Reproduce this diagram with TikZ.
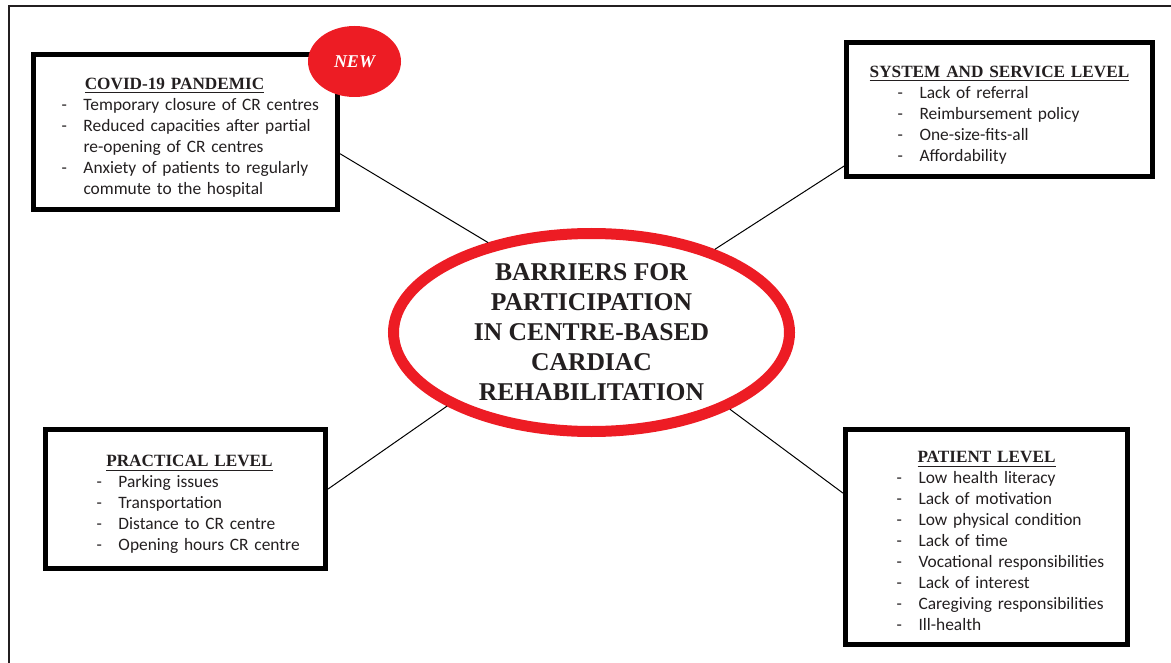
\documentclass[tikz,border=0pt]{standalone}
\usepackage{fontspec}
\setmainfont{Liberation Serif}
\newfontfamily\calibri{Carlito}
\definecolor{crred}{HTML}{ED1C24}
\definecolor{ink}{HTML}{231F20}
\newcommand{\lvhead}[1]{{\rule{0pt}{13pt}\rmfamily\bfseries\fontsize{8.6}{10.5}\selectfont\underline{#1}}}
\tikzset{
  levelbox/.style={draw=black, line width=2.5pt, inner sep=0pt, align=left,
    text=ink, font=\calibri\fontsize{8.7}{10.5}\selectfont},
  centre/.style={ellipse, draw=crred, line width=5.5pt, fill=white, inner sep=0pt,
    minimum width=198pt, minimum height=99pt, align=center, text=ink,
    font=\bfseries\fontsize{12.8}{15}\selectfont},
  newbadge/.style={ellipse, fill=crred, inner sep=0pt, minimum width=46.5pt,
    minimum height=35.5pt, text=white, font=\bfseries\itshape\fontsize{9}{10}\selectfont},
  link/.style={draw=black, line width=0.5pt}
}
\usetikzlibrary{shapes.geometric}
\begin{document}
\begin{tikzpicture}[x=0.5pt,y=-0.5pt]
  \useasboundingbox (0,0) rectangle (1171,663);
  \draw[ink, line width=1pt] (8.5,663) -- (8.5,6) -- (1171,6);

  \node[levelbox, minimum width=152pt, minimum height=77.5pt, text width=152pt] (covid) at (185.5,132)
    {\makebox[\linewidth]{\lvhead{COVID-19 PANDEMIC}\hspace*{11pt}}\\
     \begin{tabular}[t]{@{\hspace{14pt}}p{11pt}@{}l@{}}
       - & Temporary closure of CR centres\\
       - & Reduced capacities after partial\\
         & re-opening of CR centres\\
       - & Anxiety of patients to regularly\\
         & commute to the hospital
     \end{tabular}};
  \node[newbadge] (new) at (354.5,61.5) {NEW};

  \node[levelbox, minimum width=153pt, minimum height=67pt, text width=153pt] (system) at (999.5,109.5)
    {\makebox[\linewidth]{\lvhead{SYSTEM AND SERVICE LEVEL}}\\
     \begin{tabular}[t]{@{\hspace{25.5pt}}p{11pt}@{}l@{}}
       - & Lack of referral\\
       - & Reimbursement policy\\
       - & One-size-fits-all\\
       - & Affordability
     \end{tabular}};

  \node[levelbox, minimum width=140pt, minimum height=69.5pt, text width=140pt] (practical) at (185.5,499)
    {\makebox[\linewidth]{\hspace*{4pt}\lvhead{PRACTICAL LEVEL}}\\
     \begin{tabular}[t]{@{\hspace{25.5pt}}p{11pt}@{}l@{}}
       - & Parking issues\\
       - & Transportation\\
       - & Distance to CR centre\\
       - & Opening hours CR centre
     \end{tabular}};

  \node[levelbox, minimum width=141pt, minimum height=107.5pt, text width=141pt] (patient) at (986.5,537)
    {\makebox[\linewidth]{\lvhead{PATIENT LEVEL}}\\
     \begin{tabular}[t]{@{\hspace{25.5pt}}p{11pt}@{}l@{}}
       - & Low health literacy\\
       - & Lack of motivation\\
       - & Low physical condition\\
       - & Lack of time\\
       - & Vocational responsibilities\\
       - & Lack of interest\\
       - & Caregiving responsibilities\\
       - & Ill-health
     \end{tabular}};

  \node[centre] (title) at (591.5,332.5)
    {BARRIERS FOR\\PARTICIPATION\\IN CENTRE-BASED\\CARDIAC\\REHABILITATION};

  \draw[link] (covid.-8) -- (title.139);
  \draw[link] (system.-160) -- (title.34);
  \draw[link] (practical.4) -- (title.-153);
  \draw[link] (patient.163) -- (title.-29);
\end{tikzpicture}
\end{document}
